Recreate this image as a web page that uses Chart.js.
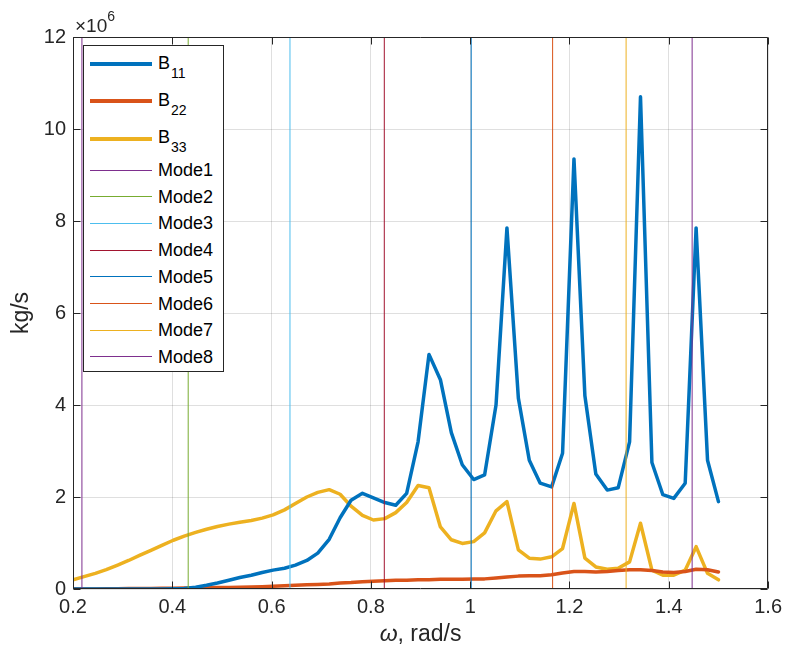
<!DOCTYPE html>
<html>
<head>
<meta charset="utf-8">
<script src="https://cdn.jsdelivr.net/npm/chart.js@4"></script>
<style>
html,body{margin:0;padding:0;background:#fff;}
#wrap{position:relative;width:788px;height:656px;}
#legend{position:absolute;left:83px;top:45px;width:139px;height:325px;border:1px solid #262626;background:#fff;font-family:"Liberation Sans",Arial,sans-serif;color:#000;}
</style>
</head>
<body>
<div id="wrap"><canvas id="c" width="788" height="656"></canvas><div id="legend"></div></div>
<script>
// ---- data (values in units of 1e6 kg/s) ----
const omega = [0.200,0.222,0.245,0.267,0.290,0.312,0.334,0.357,0.379,0.402,
               0.424,0.447,0.469,0.491,0.514,0.536,0.559,0.581,0.603,0.626,
               0.648,0.671,0.693,0.716,0.738,0.760,0.783,0.805,0.828,0.850,
               0.872,0.895,0.917,0.940,0.962,0.984,1.007,1.029,1.052,1.074,
               1.097,1.119,1.141,1.164,1.186,1.209,1.231,1.253,1.276,1.298,
               1.321,1.343,1.366,1.388,1.410,1.433,1.455,1.478,1.500];
const b11 = [0,0,0,0,0,0,0,0,0,0.005,
             0.01,0.04,0.08,0.13,0.19,0.25,0.30,0.36,0.41,0.45,
             0.52,0.62,0.78,1.08,1.55,1.93,2.08,1.98,1.88,1.82,
             2.08,3.2,5.1,4.55,3.4,2.7,2.38,2.48,4.0,7.85,
             4.15,2.8,2.3,2.22,2.95,9.35,4.2,2.5,2.15,2.2,
             3.2,10.7,2.75,2.05,1.97,2.3,7.85,2.8,1.9];
const b22 = [0,0,0,0.005,0.005,0.01,0.01,0.01,0.015,0.015,
             0.02,0.02,0.025,0.03,0.035,0.04,0.045,0.05,0.06,0.07,
             0.08,0.09,0.10,0.11,0.13,0.14,0.16,0.17,0.18,0.19,
             0.19,0.20,0.20,0.21,0.21,0.21,0.22,0.22,0.24,0.26,
             0.28,0.29,0.29,0.31,0.35,0.38,0.38,0.37,0.38,0.40,
             0.42,0.42,0.40,0.37,0.36,0.38,0.43,0.42,0.37];
const b33 = [0.20,0.27,0.34,0.42,0.52,0.62,0.73,0.84,0.95,1.06,
             1.15,1.23,1.30,1.36,1.41,1.45,1.49,1.54,1.61,1.72,
             1.86,2.00,2.10,2.16,2.06,1.80,1.60,1.50,1.53,1.66,
             1.88,2.25,2.20,1.35,1.07,0.99,1.03,1.22,1.70,1.90,
             0.85,0.67,0.65,0.70,0.88,1.86,0.67,0.48,0.43,0.45,
             0.59,1.43,0.41,0.30,0.30,0.41,0.92,0.34,0.20];
const modeOmega = [0.218,0.432,0.637,0.827,1.002,1.166,1.314,1.447];
const seriesLabels = ['B11','B22','B33'];
const modeLabels = ['Mode1','Mode2','Mode3','Mode4','Mode5','Mode6','Mode7','Mode8'];
const xTicks = [0.2,0.4,0.6,0.8,1,1.2,1.4,1.6];
const yTicks = [0,2,4,6,8,10,12];

// ---- styles ----
const FAM = '"Liberation Sans", Arial, sans-serif';
const INK = '#262626';
const seriesColors = ['#0072BD','#D95319','#EDB120'];
const modeColors = ['#7E2F8E','#77AC30','#4DBEEE','#A2142F','#0072BD','#D95319','#EDB120','#7E2F8E'];

const datasets = [];
[b11,b22,b33].forEach((vals,i)=>{
  datasets.push({label:seriesLabels[i], data:omega.map((w,j)=>({x:w,y:vals[j]})),
    borderColor:seriesColors[i], backgroundColor:seriesColors[i], borderWidth:3.5,
    pointRadius:0, tension:0, fill:false, order:i+1, borderJoinStyle:'round', borderCapStyle:'round'});
});
modeOmega.forEach((w,i)=>{
  datasets.push({label:modeLabels[i], data:[{x:w,y:yTicks[0]},{x:w,y:yTicks[yTicks.length-1]}],
    borderColor:modeColors[i], backgroundColor:modeColors[i], borderWidth:1, pointRadius:0, order:0});
});

const framePlugin = {
  id:'frame',
  afterDraw(chart){
    const {ctx, chartArea:{left,right,top,bottom}, scales:{x,y}} = chart;
    ctx.save();
    ctx.strokeStyle = INK; ctx.lineWidth = 1;
    const L = Math.round(left)+0.5, R = Math.round(right)-0.5, T = Math.round(top)+0.5, B = Math.round(bottom)-0.5;
    ctx.beginPath();
    ctx.rect(L, T, R-L, B-T);
    const tl = 7;
    xTicks.forEach(v=>{ const p = Math.round(x.getPixelForValue(v))+0.5;
      ctx.moveTo(p,B); ctx.lineTo(p,B-tl); ctx.moveTo(p,T); ctx.lineTo(p,T+tl); });
    yTicks.forEach(v=>{ const p = Math.round(y.getPixelForValue(v))+0.5;
      ctx.moveTo(L,p); ctx.lineTo(L+tl,p); ctx.moveTo(R,p); ctx.lineTo(R-tl,p); });
    ctx.stroke();
    // exponent label
    ctx.fillStyle = INK; ctx.textBaseline = 'alphabetic'; ctx.textAlign = 'left';
    ctx.font = '19px ' + FAM;
    ctx.fillText('\u00d710', left+2, top-5);
    const w = ctx.measureText('\u00d710').width;
    ctx.font = '14px ' + FAM;
    ctx.fillText('6', left+2+w, top-16);
    // x axis title with italic omega
    const cx = (left+right)/2, cy = 635;
    ctx.font = 'italic 23px ' + FAM; const w1 = ctx.measureText('\u03c9').width;
    ctx.font = '23px ' + FAM; const w2 = ctx.measureText(', rad/s').width;
    const x0 = cx - (w1+w2)/2;
    ctx.textBaseline = 'middle';
    ctx.font = 'italic 23px ' + FAM; ctx.fillText('\u03c9', x0, cy);
    ctx.font = '23px ' + FAM; ctx.fillText(', rad/s', x0+w1, cy);
    ctx.restore();
  }
};

new Chart(document.getElementById('c'), {
  type:'line',
  data:{datasets},
  options:{
    responsive:false, animation:false, events:[],
    layout:{padding:{top:37,right:16,left:0,bottom:0}},
    plugins:{legend:{display:false}, tooltip:{enabled:false}},
    scales:{
      x:{type:'linear', min:xTicks[0], max:xTicks[xTicks.length-1],
        afterBuildTicks:s=>{ s.ticks = xTicks.map(v=>({value:v})); },
        afterFit:s=>{ s.height = 67; },
        ticks:{callback:v=>String(+Number(v).toFixed(1)), font:{family:FAM,size:20}, color:INK, padding:6, maxRotation:0, autoSkip:false},
        grid:{color:'rgba(38,38,38,0.15)', drawTicks:false, lineWidth:1},
        border:{display:false}},
      y:{type:'linear', min:yTicks[0], max:yTicks[yTicks.length-1],
        afterBuildTicks:s=>{ s.ticks = yTicks.map(v=>({value:v})); },
        afterFit:s=>{ s.width = 73; },
        ticks:{callback:v=>String(v), font:{family:FAM,size:20}, color:INK, padding:7, autoSkip:false},
        grid:{color:'rgba(38,38,38,0.15)', drawTicks:false, lineWidth:1},
        border:{display:false},
        title:{display:true, text:'kg/s', font:{family:FAM,size:23}, color:INK, padding:{top:8,bottom:0}}}
    }
  },
  plugins:[framePlugin]
});

// ---- legend (HTML overlay inside the axes) ----
const legendEl = document.getElementById('legend');
datasets.forEach((ds,i)=>{
  const cy = (i<3 ? 64 + 37.3*i : 170 + 26.7*(i-3)) - 46;
  const lw = i<3 ? 4 : 1;
  const line = document.createElement('div');
  line.style.cssText = `position:absolute;left:6px;width:62px;top:${cy - lw/2}px;height:${lw}px;background:${ds.borderColor}`;
  legendEl.appendChild(line);
  const txt = document.createElement('div');
  txt.style.cssText = `position:absolute;left:74px;top:${cy-11}px;height:22px;line-height:22px;font-size:18px;white-space:nowrap;color:#000`;
  const m = /^B(\d+)$/.exec(ds.label);
  if (m) {
    txt.style.top = (cy-12.5) + 'px';
    txt.textContent = 'B';
    const sub = document.createElement('span');
    sub.textContent = m[1];
    sub.style.cssText = 'font-size:14px;position:relative;top:9px;left:1px';
    txt.appendChild(sub);
  } else {
    txt.textContent = ds.label;
  }
  legendEl.appendChild(txt);
});
</script>
</body>
</html>
